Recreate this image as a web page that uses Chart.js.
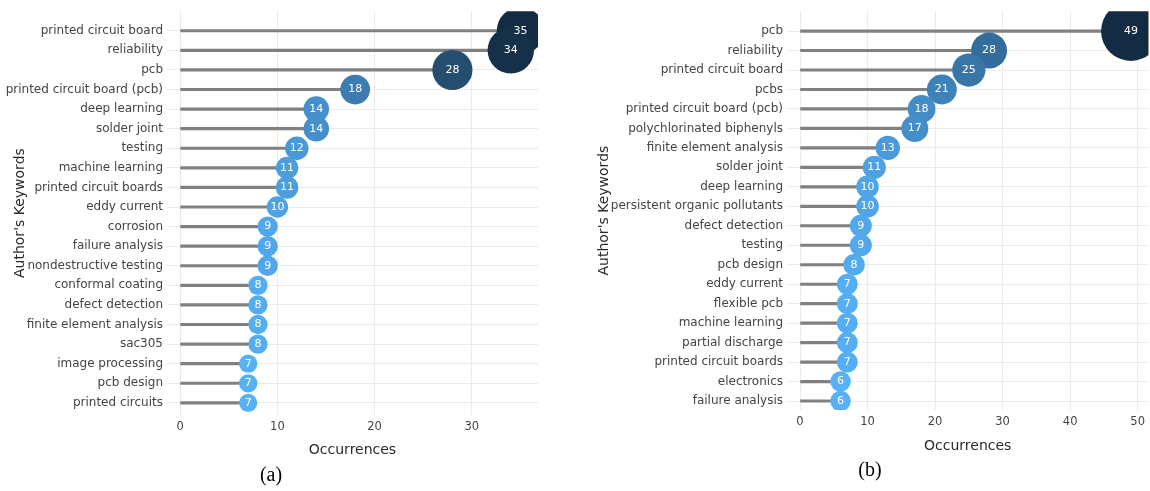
<!DOCTYPE html>
<html>
<head>
<meta charset="utf-8">
<script src="https://cdn.jsdelivr.net/npm/chart.js@4"></script>
<style>
  body { margin: 0; background: #fff; }
  #wrap { position: relative; width: 1150px; height: 491px; overflow: hidden; }
  .panel { position: absolute; top: 0; height: 491px; }
  .cap { position: absolute; font-family: "Liberation Serif", serif; font-size: 20px; color: #000; transform: translate(-50%, -50%); }
</style>
</head>
<body>
<div id="wrap">
  <div class="panel" style="left:0;width:560px"><canvas id="chartA"></canvas></div>
  <div class="panel" style="left:590px;width:560px"><canvas id="chartB"></canvas></div>
  <div class="cap" style="left:271px;top:474px">(a)</div>
  <div class="cap" style="left:870px;top:469px">(b)</div>
</div>
<script>
// ===== DATA =====
const keywordsA = ["printed circuit board", "reliability", "pcb", "printed circuit board (pcb)",
  "deep learning", "solder joint", "testing", "machine learning", "printed circuit boards",
  "eddy current", "corrosion", "failure analysis", "nondestructive testing", "conformal coating",
  "defect detection", "finite element analysis", "sac305", "image processing", "pcb design",
  "printed circuits"];
const countsA = [35, 34, 28, 18, 14, 14, 12, 11, 11, 10, 9, 9, 9, 8, 8, 8, 8, 7, 7, 7];
const xTicksA = [0, 10, 20, 30];

const keywordsB = ["pcb", "reliability", "printed circuit board", "pcbs", "printed circuit board (pcb)",
  "polychlorinated biphenyls", "finite element analysis", "solder joint", "deep learning",
  "persistent organic pollutants", "defect detection", "testing", "pcb design", "eddy current",
  "flexible pcb", "machine learning", "partial discharge", "printed circuit boards",
  "electronics", "failure analysis"];
const countsB = [49, 28, 25, 21, 18, 17, 13, 11, 10, 10, 9, 9, 8, 7, 7, 7, 7, 7, 6, 6];
const xTicksB = [0, 10, 20, 30, 40, 50];

const FONT = "DejaVu Sans";

// ggplot-like gradient: light blue (low) -> dark navy (high)
function gradColor(v, lo, hi) {
  const t = (v - lo) / (hi - lo);
  const a = [0x56, 0xB1, 0xF7], b = [0x13, 0x2B, 0x43];
  const c = a.map((x, i) => Math.round(x + (b[i] - x) * t));
  return `rgb(${c[0]},${c[1]},${c[2]})`;
}

/* ===== value labels inside bubbles ===== */
const bubbleLabels = {
  id: "bubbleLabels",
  afterDatasetsDraw(chart) {
    const ctx = chart.ctx;
    const meta = chart.getDatasetMeta(1);
    ctx.save();
    ctx.fillStyle = "#fff";
    ctx.font = `11px "${FONT}"`;
    ctx.textAlign = "center";
    ctx.textBaseline = "middle";
    meta.data.forEach((el, i) => {
      ctx.fillText(chart.data.datasets[1].data[i].x, el.x, el.y);
    });
    ctx.restore();
  }
};

function makeChart(id, keywords, counts, xTicks, cfg) {
  const lo = Math.min(...counts), hi = Math.max(...counts);
  return new Chart(document.getElementById(id), {
    type: "bubble",
    data: {
      datasets: [
        {
          type: "bar",
          indexAxis: "y",
          order: 1,
          data: counts.map((v, i) => ({ x: [0, v], y: i })),
          backgroundColor: "#808080",
          barThickness: 2.5
        },
        {
          order: 0,
          clip: 0,
          data: counts.map((v, i) => ({ x: v, y: i })),
          radius: c => cfg.radius(c.raw.x),
          backgroundColor: c => gradColor(c.raw.x, lo, hi),
          borderWidth: 0
        }
      ]
    },
    options: {
      responsive: true,
      maintainAspectRatio: false,
      animation: false,
      layout: { autoPadding: false, padding: { left: 0, top: cfg.top, right: cfg.right, bottom: 0 } },
      plugins: { legend: { display: false }, tooltip: { enabled: false } },
      scales: {
        x: {
          type: "linear",
          offset: false,
          min: cfg.xmin,
          max: cfg.xmax,
          afterBuildTicks: s => { s.ticks = xTicks.map(v => ({ value: v })); },
          afterFit: s => { s.height = cfg.xh; },
          grid: { color: "#ebebeb", drawTicks: false, offset: false },
          border: { display: false },
          ticks: { color: "#444", padding: 5, font: { family: FONT, size: 11.5 } },
          title: {
            display: true, text: "Occurrences", color: "#2a2a2a",
            font: { family: FONT, size: 14 }, padding: { top: 0, bottom: cfg.titleB }
          }
        },
        y: {
          type: "linear",
          offset: false,
          reverse: true,
          min: cfg.ymin,
          max: cfg.ymax,
          afterBuildTicks: s => { s.ticks = keywords.map((_, i) => ({ value: i })); },
          afterFit: s => { s.width = cfg.yw; },
          grid: { color: "#ebebeb", drawTicks: false, offset: false },
          border: { display: false },
          ticks: {
            color: "#444", padding: 4, autoSkip: false,
            font: { family: FONT, size: 12 },
            callback: v => keywords[v]
          },
          title: {
            display: true, text: "Author's Keywords", color: "#2a2a2a",
            font: { family: FONT, size: 14 }, padding: { top: cfg.titleL, bottom: 0 }
          }
        }
      }
    },
    plugins: [bubbleLabels]
  });
}

makeChart("chartA", keywordsA, countsA, xTicksA, {
  top: 4, right: 22, xh: 76, yw: 167, titleB: 32.6, titleL: 11.6,
  xmin: -1.35, xmax: 36.8, ymin: -1, ymax: 19.62,
  radius: v => 5.5 + 0.52 * v
});

makeChart("chartB", keywordsB, countsB, xTicksB, {
  top: 6, right: 1, xh: 81, yw: 197, titleB: 36.6, titleL: 5.6,
  xmin: -1.93, xmax: 51.6, ymin: -1.02, ymax: 19.46,
  radius: v => 9 + 0.18 * v + 0.005 * v * v
});
</script>
</body>
</html>
